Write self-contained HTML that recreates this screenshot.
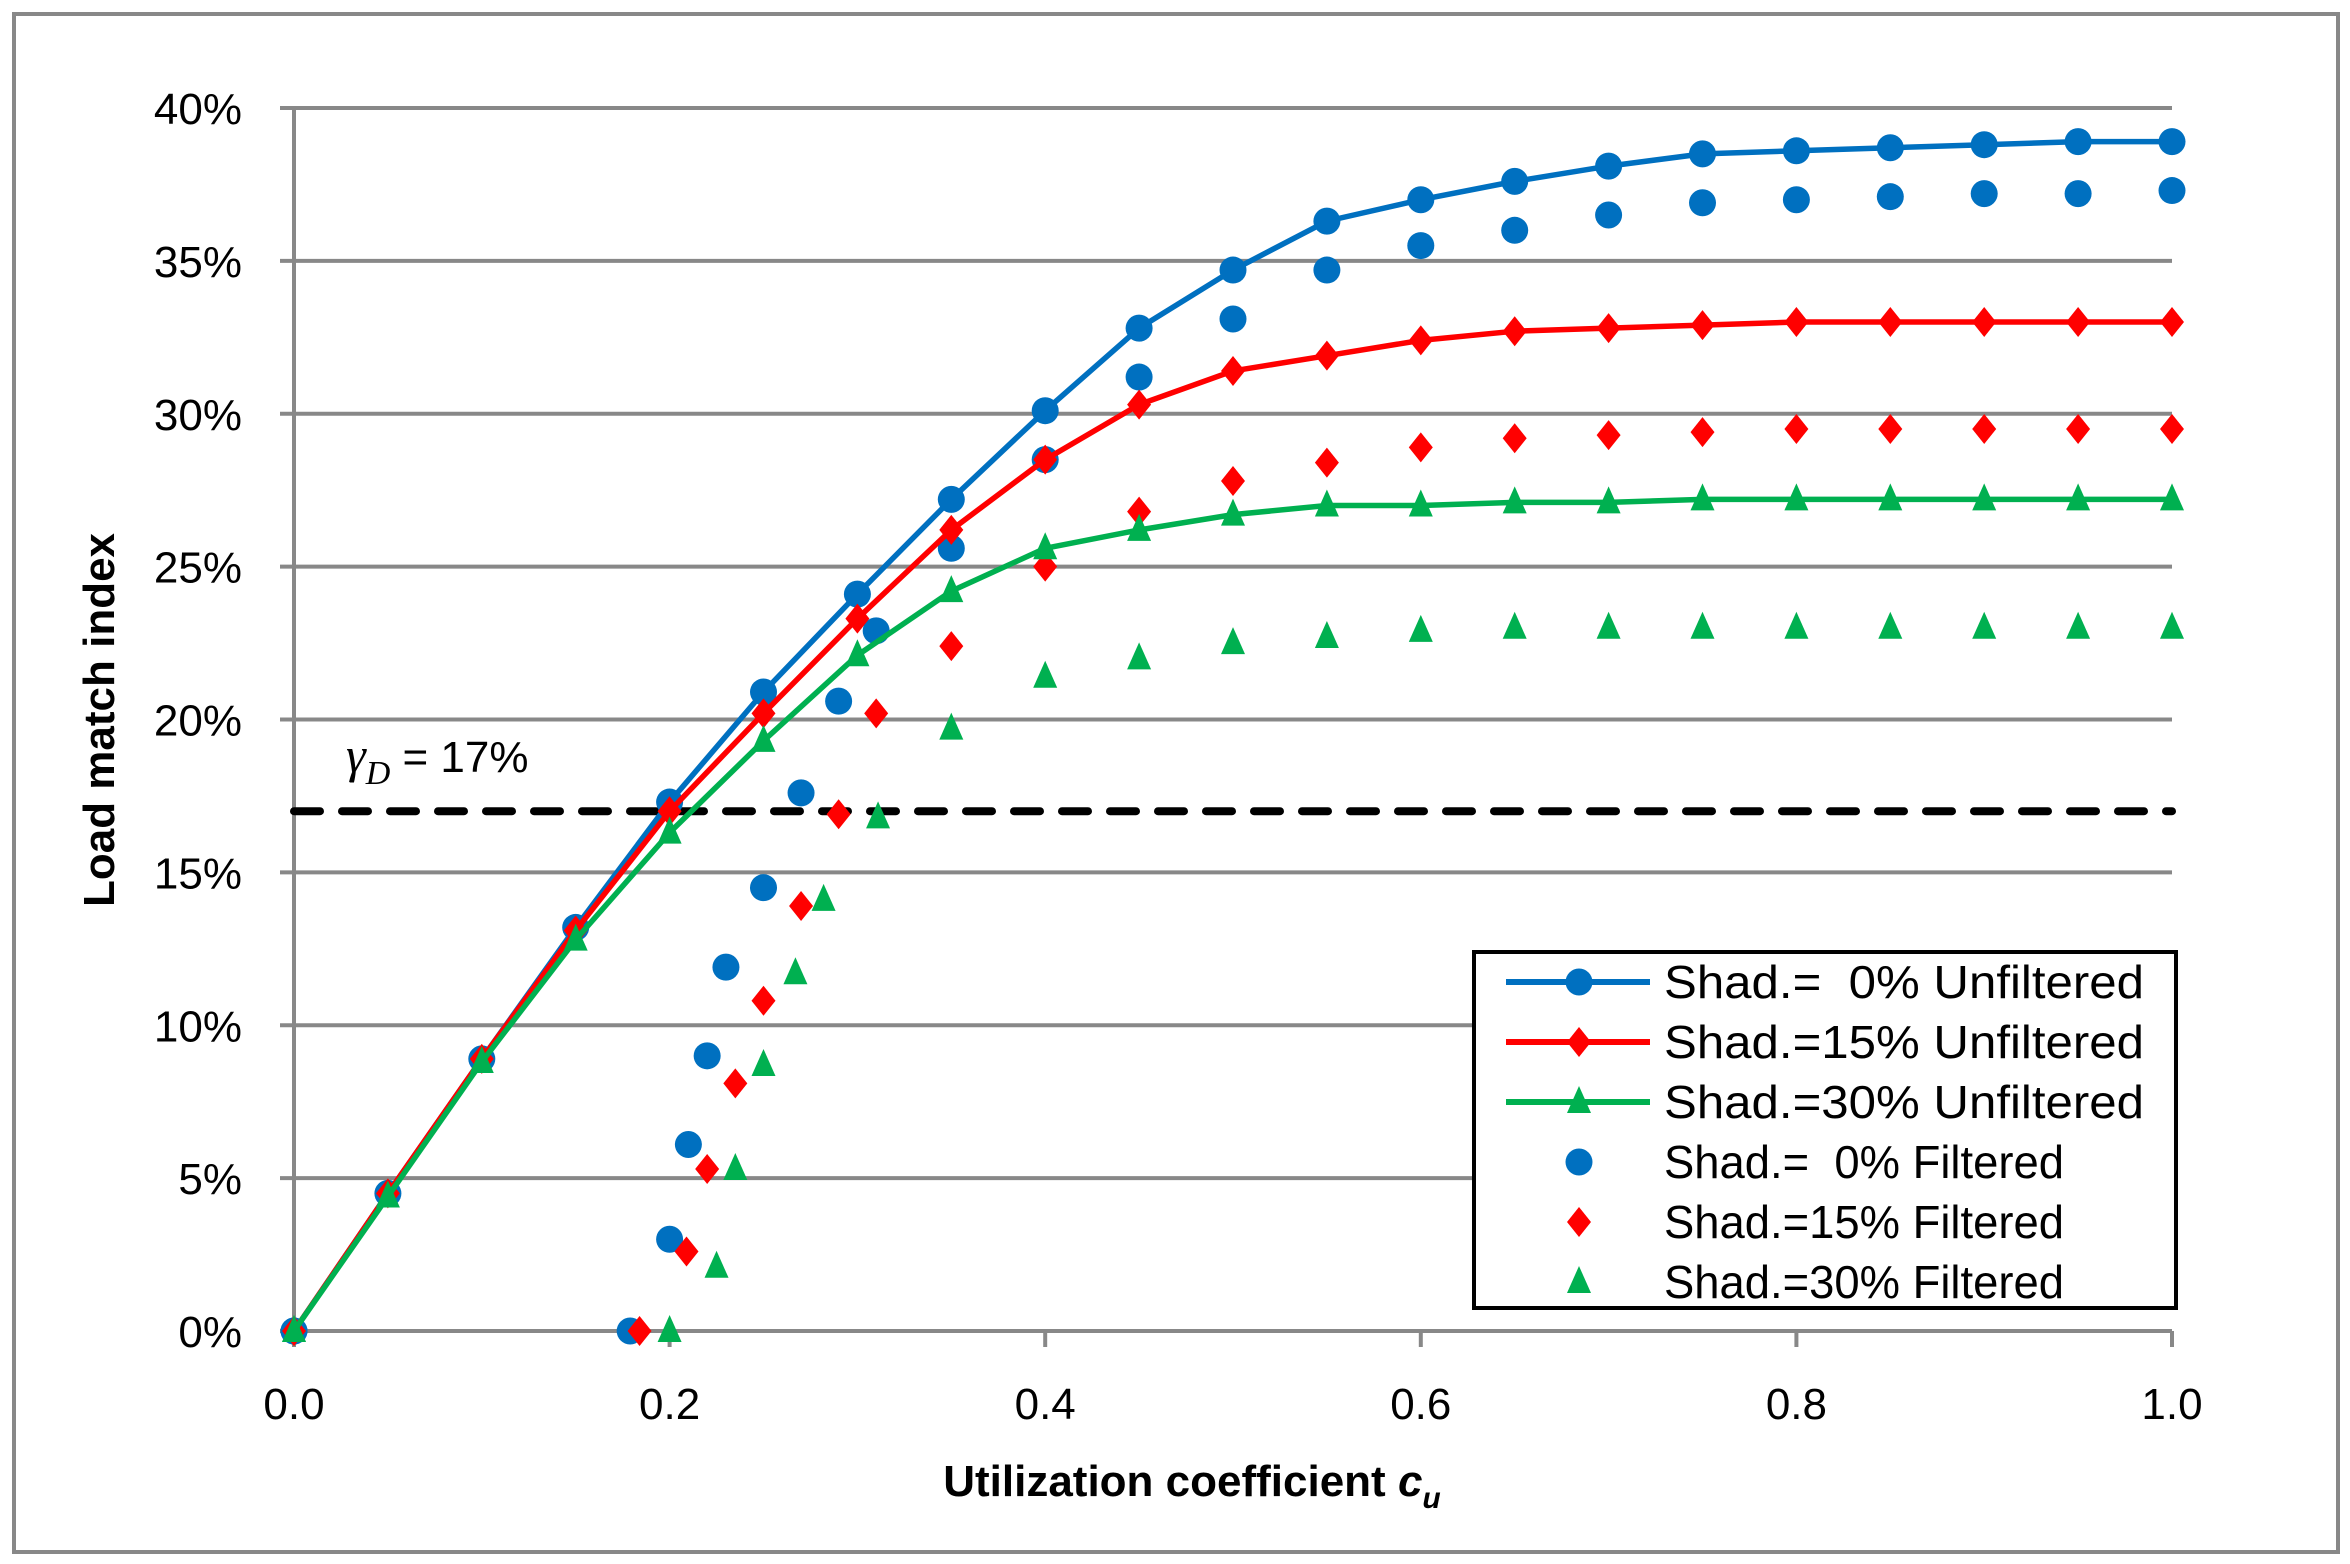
<!DOCTYPE html>
<html><head><meta charset="utf-8"><style>
html,body{margin:0;padding:0;background:#fff;}
svg{display:block;font-family:"Liberation Sans",sans-serif;}
</style></head><body>
<svg id="chart" width="2350" height="1564" viewBox="0 0 2350 1564" xmlns="http://www.w3.org/2000/svg">
<rect x="14" y="14" width="2324" height="1538" fill="#fff" stroke="#888" stroke-width="4"/>
<g id="grid"></g>
<g id="axes"></g>
<g id="series"></g>
<text x="346" y="772" font-size="44"><tspan font-family="Liberation Serif,serif" font-style="italic" font-size="50">γ</tspan><tspan font-family="Liberation Serif,serif" font-style="italic" font-size="34" dy="12">D</tspan><tspan dy="-12"> = 17%</tspan></text>
<text transform="translate(114,720) rotate(-90)" text-anchor="middle" font-size="44" font-weight="bold">Load match index</text>
<text x="1192" y="1496" text-anchor="middle" font-size="44" font-weight="bold">Utilization coefficient <tspan font-style="italic">c</tspan><tspan font-style="italic" font-size="30" dy="12">u</tspan></text>
<g id="legend"></g>
</svg>
<script>
const xTicks=[0,0.2,0.4,0.6,0.8,1.0];
const yTicks=[0,5,10,15,20,25,30,35,40];
const xU=[0,0.05,0.1,0.15,0.2,0.25,0.3,0.35,0.4,0.45,0.5,0.55,0.6,0.65,0.7,0.75,0.8,0.85,0.9,0.95,1.0];
const u0=[0,4.5,8.9,13.2,17.3,20.9,24.1,27.2,30.1,32.8,34.7,36.3,37.0,37.6,38.1,38.5,38.6,38.7,38.8,38.9,38.9];
const u15=[0,4.5,8.9,13.1,17.0,20.2,23.3,26.2,28.5,30.3,31.4,31.9,32.4,32.7,32.8,32.9,33.0,33.0,33.0,33.0,33.0];
const u30=[0,4.4,8.8,12.8,16.3,19.3,22.1,24.2,25.6,26.2,26.7,27.0,27.0,27.1,27.1,27.2,27.2,27.2,27.2,27.2,27.2];
const xF0=[0,0.179,0.2,0.21,0.22,0.23,0.25,0.27,0.29,0.31,0.35,0.4,0.45,0.5,0.55,0.6,0.65,0.7,0.75,0.8,0.85,0.9,0.95,1.0];
const f0=[0,0,3.0,6.1,9.0,11.9,14.5,17.6,20.6,22.9,25.6,28.5,31.2,33.1,34.7,35.5,36.0,36.5,36.9,37.0,37.1,37.2,37.2,37.3];
const xF15=[0,0.184,0.209,0.22,0.235,0.25,0.27,0.29,0.31,0.35,0.4,0.45,0.5,0.55,0.6,0.65,0.7,0.75,0.8,0.85,0.9,0.95,1.0];
const f15=[0,0,2.6,5.3,8.1,10.8,13.9,16.9,20.2,22.4,25.0,26.8,27.8,28.4,28.9,29.2,29.3,29.4,29.5,29.5,29.5,29.5,29.5];
const xF30=[0,0.2,0.225,0.235,0.25,0.267,0.282,0.311,0.35,0.4,0.45,0.5,0.55,0.6,0.65,0.7,0.75,0.8,0.85,0.9,0.95,1.0];
const f30=[0,0,2.1,5.3,8.7,11.7,14.1,16.8,19.7,21.4,22.0,22.5,22.7,22.9,23.0,23.0,23.0,23.0,23.0,23.0,23.0,23.0];
const threshold=17;
const legendLabels=["Shad.=  0% Unfiltered","Shad.=15% Unfiltered","Shad.=30% Unfiltered","Shad.=  0% Filtered","Shad.=15% Filtered","Shad.=30% Filtered"];

const NS="http://www.w3.org/2000/svg";
const X0=294,X1=2172,Y0=1331,Y1=108;
const sx=v=>X0+(X1-X0)*v;
const sy=v=>Y0-(Y0-Y1)*v/40;
function mk(tag,attrs,parent){const e=document.createElementNS(NS,tag);for(const k in attrs)e.setAttribute(k,attrs[k]);parent.appendChild(e);return e;}
const grid=document.getElementById('grid'),axes=document.getElementById('axes'),ser=document.getElementById('series'),leg=document.getElementById('legend');
yTicks.forEach(t=>{
 const l=mk('line',{x1:X0-14,x2:X1,y1:sy(t),y2:sy(t),stroke:'#888','stroke-width':4},grid);
 
 
 const tx=mk('text',{x:X0-52,y:sy(t)+16,'text-anchor':'end','font-size':44},axes);
 tx.textContent=t+'%';
 
 
});
const ya=mk('line',{x1:X0,x2:X0,y1:Y1,y2:Y0+14,stroke:'#888','stroke-width':4},axes);


xTicks.forEach(t=>{
 const l=mk('line',{x1:sx(t),x2:sx(t),y1:Y0,y2:Y0+16,stroke:'#888','stroke-width':4},axes);
 
 
 const tx=mk('text',{x:sx(t),y:Y0+88,'text-anchor':'middle','font-size':44},axes);
 tx.textContent=t.toFixed(1);
 
 
});
const dl=mk('line',{x1:X0,x2:X1,y1:sy(threshold),y2:sy(threshold),stroke:'#000','stroke-width':8,'stroke-dasharray':'26 22','stroke-linecap':'round'},ser);



function marker(kind,x,y,color,parent,name){
 let e;
 if(kind==='c') e=mk('circle',{cx:x,cy:y,r:13.5,fill:color},parent);
 else if(kind==='d') e=mk('polygon',{points:`${x},${y-15} ${x+12},${y} ${x},${y+15} ${x-12},${y}`,fill:color},parent);
 else e=mk('polygon',{points:`${x},${y-16} ${x+12},${y+11} ${x-12},${y+11}`,fill:color},parent);
 
 
}
const BLUE='#0070C0',RED='#FF0000',GREEN='#00B050';
function lineSeries(xs,ys,color,kind,name){
 const g=mk('g',{},ser);
 
 
 const p=mk('polyline',{points:xs.map((x,i)=>sx(x)+','+sy(ys[i])).join(' '),fill:'none',stroke:color,'stroke-width':5.5,'stroke-linejoin':'round'},g);
 
 
 xs.forEach((x,i)=>marker(kind,sx(x),sy(ys[i]),color,g,name+'-point'));
}
function scatterSeries(xs,ys,color,kind,name){
 const g=mk('g',{},ser);
 
 
 xs.forEach((x,i)=>marker(kind,sx(x),sy(ys[i]),color,g,name+'-point'));
}
scatterSeries(xF0,f0,BLUE,'c','filtered-0');
scatterSeries(xF15,f15,RED,'d','filtered-15');
scatterSeries(xF30,f30,GREEN,'t','filtered-30');
lineSeries(xU,u0,BLUE,'c','unfiltered-0');
lineSeries(xU,u15,RED,'d','unfiltered-15');
lineSeries(xU,u30,GREEN,'t','unfiltered-30');

const box=mk('rect',{x:1474,y:952,width:702,height:356,fill:'#fff',stroke:'#000','stroke-width':4},leg);


const cols=[BLUE,RED,GREEN,BLUE,RED,GREEN],kinds=['c','d','t','c','d','t'];
legendLabels.forEach((lab,i)=>{
 const y=982+i*60;
 const g=mk('g',{},leg);
 
 
 if(i<3){const l=mk('line',{x1:1506,x2:1650,y1:y,y2:y,stroke:cols[i],'stroke-width':6},g);
  
  }
 marker(kinds[i],1579,y,cols[i],g,'legend-marker');
 const t=mk('text',{x:1664,y:y+16,'font-size':46,textLength:(i<3?480:400),lengthAdjust:'spacingAndGlyphs'},g);
 t.textContent=lab;
 t.setAttribute('xml:space','preserve');
 t.style.whiteSpace='pre';
 
 
});
</script>
</body></html>
